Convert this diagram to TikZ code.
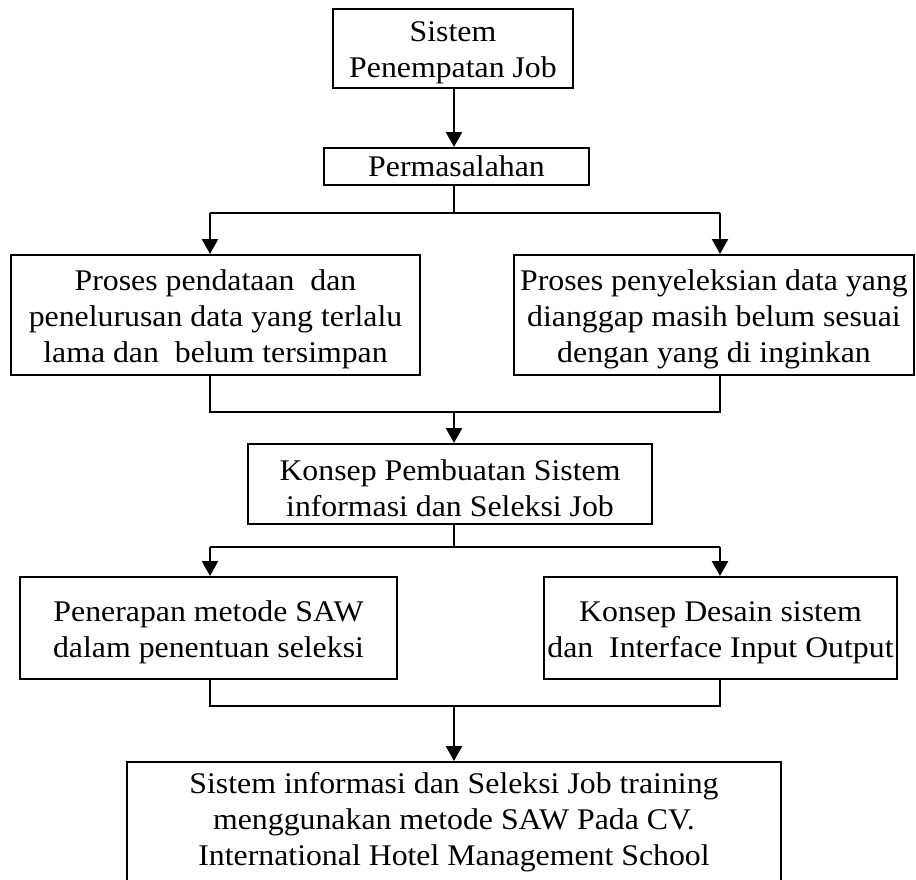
\documentclass[tikz,border=0pt]{standalone}
\usepackage{fontspec}
\setmainfont[FakeStretch=1.06]{Liberation Serif}
\usetikzlibrary{arrows.meta}
\newcommand\tstrut{\rule{0pt}{29pt}}
\begin{document}
\begin{tikzpicture}[x=1pt,y=-1pt,
  box/.style={draw,line width=2pt,inner sep=0pt,align=center,
    font=\fontsize{30}{36}\selectfont},
  conn/.style={line width=1.6pt},
  arr/.style={line width=2.4pt,-{Triangle[length=15pt,width=16pt]}}]
\useasboundingbox (0,0) rectangle (916,879);
\clip (0,0) rectangle (916,879);
\node[box,minimum width=240pt,minimum height=79pt] (n1) at (453,48.5) {\tstrut Sistem\\Penempatan Job};
\node[box,minimum width=265pt,minimum height=37pt] (n2) at (456.5,166.5) {Permasalahan};
\node[box,minimum width=409pt,minimum height=120pt] (n3) at (215.5,315) {\tstrut Proses pendataan~ dan\\penelurusan data yang terlalu\\lama dan~ belum tersimpan};
\node[box,minimum width=400pt,minimum height=120pt] (n4) at (714,315) {\tstrut Proses penyeleksian data yang\\dianggap masih belum sesuai\\dengan yang di inginkan};
\node[box,minimum width=404pt,minimum height=80pt] (n5) at (450,484) {\tstrut Konsep Pembuatan Sistem\\informasi dan Seleksi Job};
\node[box,minimum width=377pt,minimum height=102pt] (n6) at (208.5,628) {\tstrut Penerapan metode SAW\\dalam penentuan seleksi};
\node[box,minimum width=353pt,minimum height=102pt] (n7) at (720.5,628) {\tstrut Konsep Desain sistem\\dan~ Interface Input Output};
\node[box,minimum width=654pt,inner ysep=10.5pt,anchor=north] (n8) at (454,761) {Sistem informasi dan Seleksi Job training\\menggunakan metode SAW Pada CV.\\International Hotel Management School\rule[-30pt]{0pt}{0pt}};
\coordinate (xL) at (210,0);
\coordinate (xR) at (720,0);
\coordinate (j1) at (454,213);
\coordinate (j2) at (454,412);
\coordinate (j3) at (454,547);
\coordinate (j4) at (454,706);
\draw[arr] (n1.south -| j1) -- (n2.north -| j1);
\draw[conn] (n2.south -| j1) -- (j1);
\draw[conn] (j1 -| xL) -- (j1 -| xR);
\draw[arr] (j1 -| xL) -- (n3.north -| xL);
\draw[arr] (j1 -| xR) -- (n4.north -| xR);
\draw[conn] (n3.south -| xL) -- (j2 -| xL) -- (j2 -| xR) -- (n4.south -| xR);
\draw[arr] (j2) -- (n5.north -| j2);
\draw[conn] (n5.south -| j3) -- (j3);
\draw[conn] (j3 -| xL) -- (j3 -| xR);
\draw[arr] (j3 -| xL) -- (n6.north -| xL);
\draw[arr] (j3 -| xR) -- (n7.north -| xR);
\draw[conn] (n6.south -| xL) -- (j4 -| xL) -- (j4 -| xR) -- (n7.south -| xR);
\draw[arr] (j4) -- (n8.north -| j4);
\end{tikzpicture}
\end{document}
